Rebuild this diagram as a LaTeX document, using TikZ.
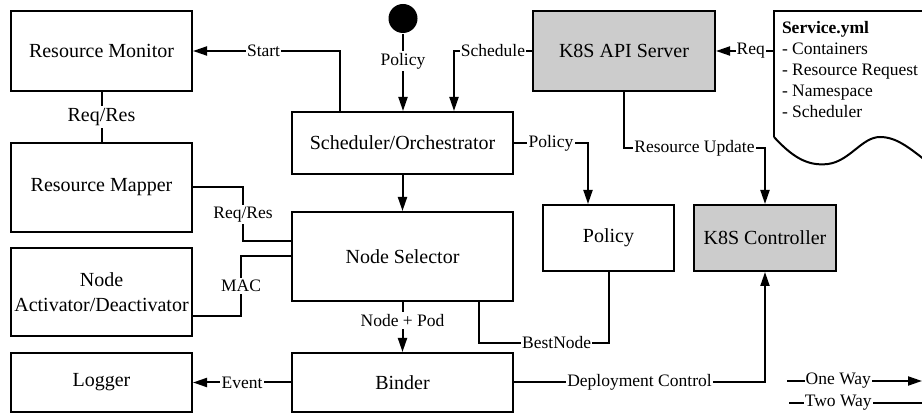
\documentclass[tikz,border=0pt]{standalone}
\usepackage{fontspec}
\setmainfont{Liberation Serif}
\usetikzlibrary{arrows.meta}
\begin{document}
\begin{tikzpicture}[x=.5pt,y=-.5pt,line width=1pt,
  box/.style={draw,fill=white,align=center,inner sep=1pt,font=\fontsize{10}{12.5}\selectfont},
  k8s/.style={box,fill=black!20},
  lbl/.style={fill=white,inner xsep=.6pt,inner ysep=1pt,font=\fontsize{8.75}{10.5}\selectfont},
  oneway/.style={-{Triangle[length=7pt,width=4.5pt]}}]
\useasboundingbox (0,0) rectangle (922,416);
\node[box,minimum width=90.5pt,minimum height=40pt] (mon) at (101.5,51) {Resource Monitor};
\node[box,minimum width=90.5pt,minimum height=44.5pt] (map) at (101.5,187.5) {Resource Mapper};
\node[box,minimum width=90.5pt,minimum height=44pt] (act) at (101.5,292) {Node\\Activator/Deactivator};
\node[box,minimum width=90.5pt,minimum height=29.5pt] (log) at (101.5,382.5) {Logger};
\node[box,minimum width=110.5pt,minimum height=31pt] (sch) at (402.5,143) {Scheduler/Orchestrator};
\node[box,minimum width=110.5pt,minimum height=44.5pt] (sel) at (402.5,256.5) {Node Selector};
\node[box,minimum width=110.5pt,minimum height=29.5pt] (bind) at (402.5,382.5) {Binder};
\node[k8s,minimum width=91pt,minimum height=40pt] (api) at (624,51) {K8S API Server};
\node[box,minimum width=65.5pt,minimum height=33pt] (pol) at (608.5,238) {Policy};
\node[k8s,minimum width=71pt,minimum height=33pt] (ctl) at (765,238) {K8S Controller};
\node[circle,fill,inner sep=0,minimum size=14.5pt] (init) at (403,18.5) {};
% service file
\draw (774,137) -- (774,11) -- (940,11);
\draw (774,137) .. controls (795,160) and (810,166) .. (828,164)
  .. controls (850,161) and (862,137) .. (880,137)
  .. controls (898,137) and (912,150) .. (935,168);
\node[anchor=north west,inner sep=0,align=left,font=\fontsize{8.75}{10.5}\selectfont] (svc) at (781,20)
  {\textbf{Service.yml}\\- Containers\\- Resource Request\\- Namespace\\- Scheduler};
\coordinate (docin) at (774,51);
% connectors
\draw[oneway] ([xshift=24.5pt]sch.north west) |- node[lbl,pos=.76]{Start} (mon);
\draw[oneway] (init) -- node[lbl,pos=.35]{Policy} (init |- sch.north);
\draw[oneway] (api) -| node[lbl,pos=.25]{Schedule} ([xshift=-30pt]sch.north east);
\draw[oneway] (docin) -- node[lbl,pos=.4]{Req} (api);
\draw[oneway] (api.south) -- ++(0,56) -| node[lbl,pos=.25]{Resource Update} (ctl);
\draw[oneway] (sch) -| node[lbl,pos=.25]{Policy} ([xshift=-10.25pt]pol.north);
\draw (pol.south) -- ++(0,71) -| node[lbl,pos=.2]{BestNode} ([xshift=38.25pt]sel.south);
\draw[oneway] (bind) -| node[lbl,pos=.25]{Deployment Control} (ctl);
\draw[oneway] (sch) -- (sel);
\draw[oneway] (sel) -- node[lbl,pos=.37]{Node + Pod} (bind);
\draw (mon) -- node[lbl,font=\fontsize{10}{12.5}\selectfont]{Req/Res} (map);
\draw (map.east) -- ++(50,0) |- node[lbl,pos=.25]{Req/Res} ([yshift=7.75pt]sel.west);
\draw (sel.west) -- ++(-50,0) |- node[lbl,pos=.25]{MAC} ([yshift=-12pt]act.east);
\draw[oneway] (bind) -- node[lbl]{Event} (log);
% legend
\coordinate (ow1) at (787,381);
\coordinate (ow2) at (922,381);
\coordinate (tw1) at (789,403);
\coordinate (tw2) at (922,403);
\draw[oneway] (ow1) -- node[lbl,pos=.38]{One Way} (ow2);
\draw (tw1) -- node[lbl,pos=.37]{Two Way} (tw2);
\end{tikzpicture}
\end{document}
